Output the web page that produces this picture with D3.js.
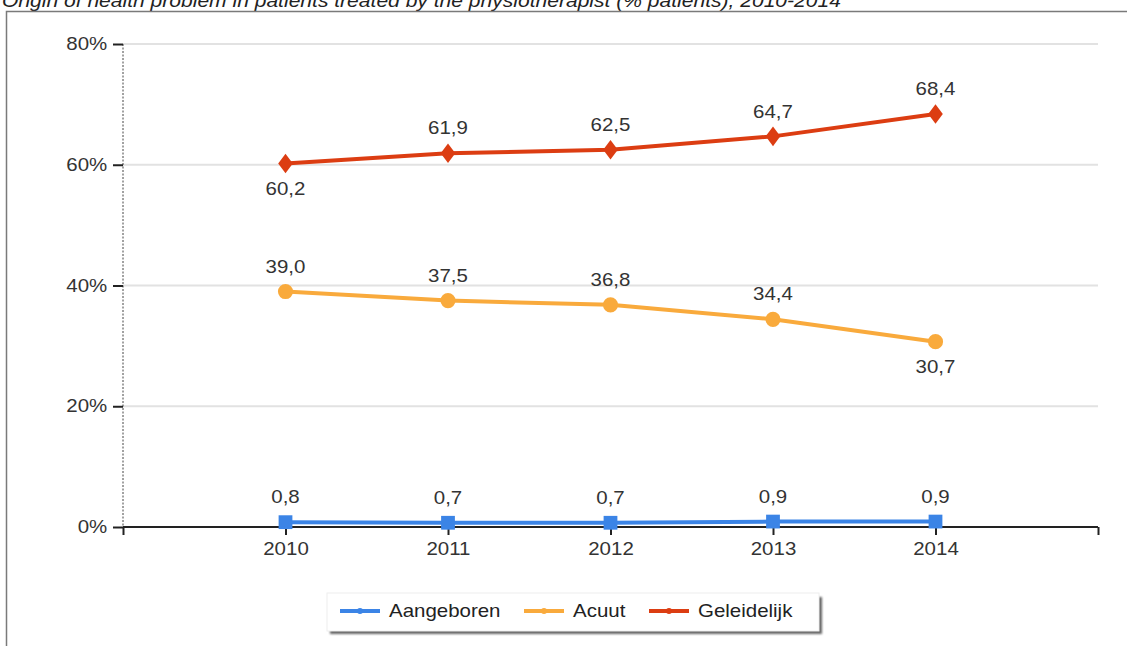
<!DOCTYPE html>
<html>
<head>
<meta charset="utf-8">
<script src="https://cdn.jsdelivr.net/npm/d3@7"></script>
<style>
  body { margin: 0; background: #fff; }
  svg { display: block; font-family: Arial, "Liberation Sans", sans-serif; }
</style>
</head>
<body>
<div id="theChart"></div>
<script>
const years = [2010, 2011, 2012, 2013, 2014]
const yTicks = [0, 20, 40, 60, 80]
const aangeboren = [0.8, 0.7, 0.7, 0.9, 0.9]
const acuut = [39.0, 37.5, 36.8, 34.4, 30.7]
const geleidelijk = [60.2, 61.9, 62.5, 64.7, 68.4]
// where the value label sits: 1 above the point, -1 below
const acuutLabelSide = [1, 1, 1, 1, -1]
const geleidelijkLabelSide = [-1, 1, 1, 1, 1]
const aangeborenLabelSide = [1, 1, 1, 1, 1]

const series = [
  { name: "Aangeboren", values: aangeboren, side: aangeborenLabelSide, color: "#3b84e6", shape: "square" },
  { name: "Acuut", values: acuut, side: acuutLabelSide, color: "#f9aa3c", shape: "circle" },
  { name: "Geleidelijk", values: geleidelijk, side: geleidelijkLabelSide, color: "#dc3d12", shape: "diamond" },
]

const w = 1127
const h = 646
// the original picture is stretched sideways, text included
const sx = 1.17
const fs = "17.5px"

const svg = d3.select("#theChart").append("svg")
  .attr("width", w)
  .attr("height", h)

// title, cut off by the top of the page
svg.append("text")
  .attr("transform", "translate(2,7) scale(" + sx + ",1)")
  .style("font-size", "18px")
  .style("font-style", "italic")
  .attr("fill", "#222")
  .text("Origin of health problem in patients treated by the physiotherapist (% patients), 2010-2014")

// outer frame
svg.append("path")
  .attr("d", "M6.5," + h + "V11.5H" + w)
  .attr("fill", "none")
  .attr("stroke", "#7a7a7a")
  .attr("stroke-width", 1.5)

const x = d3.scaleLinear().domain([2009, 2015]).range([123, 1098])
const y = d3.scaleLinear().domain([0, 80]).range([527, 44])

// gridlines
svg.append("g")
  .selectAll("line")
  .data(yTicks.filter(d => d > 0))
  .enter()
  .append("line")
  .attr("x1", x(2009))
  .attr("x2", x(2015))
  .attr("y1", d => y(d))
  .attr("y2", d => y(d))
  .attr("stroke", "#e2e2e2")
  .attr("stroke-width", 2)

// y axis
const yAxis = d3.axisLeft(y)
  .tickValues(yTicks)
  .tickSize(10)
  .tickPadding(3.5)
  .tickFormat(d => d + "%")

const gy = svg.append("g")
  .attr("transform", "translate(" + x(2009) + ",0)")
  .call(yAxis)
gy.select(".domain")
  .attr("d", "M0," + y(80) + "V" + y(0))
  .attr("stroke", "#444")
  .attr("stroke-dasharray", "2,1.5")
gy.selectAll(".tick line").attr("stroke", "#222").attr("stroke-width", 2)
gy.selectAll(".tick text")
  .style("font-size", fs)
  .attr("fill", "#333")
  .attr("transform", "scale(" + sx + ",1)")

// x axis
const xAxis = d3.axisBottom(x)
  .tickValues(d3.range(2009, 2016))
  .tickSize(8)
  .tickPadding(8)
  .tickFormat(d => (d >= 2010 && d <= 2014 ? d : ""))

const gx = svg.append("g")
  .attr("transform", "translate(0," + y(0) + ")")
  .call(xAxis)
gx.select(".domain")
  .attr("d", "M" + x(2009) + ",0H" + x(2015))
  .attr("stroke", "#222")
  .attr("stroke-width", 2)
gx.selectAll(".tick line").attr("stroke", "#222").attr("stroke-width", 2)
gx.selectAll(".tick text")
  .style("font-size", fs)
  .attr("fill", "#333")
  .attr("transform", "scale(" + sx + ",1)")

const line = d3.line()
  .x((d, i) => x(years[i]))
  .y(d => y(d))

const fmt = v => v.toFixed(1).replace(".", ",")

series.forEach(s => {
  const g = svg.append("g")
  g.append("path")
    .datum(s.values)
    .attr("d", line)
    .attr("fill", "none")
    .attr("stroke", s.color)
    .attr("stroke-width", 4)

  const sym = s.shape === "square" ? d3.symbolSquare
    : s.shape === "circle" ? d3.symbolCircle : d3.symbolDiamond
  const size = s.shape === "square" ? 190 : s.shape === "circle" ? 180 : 110

  g.selectAll(".pt")
    .data(s.values)
    .enter()
    .append("path")
    .attr("transform", (d, i) => "translate(" + x(years[i]) + "," + y(d) + ")" +
      (s.shape === "diamond" ? " scale(1.3,1)" : ""))
    .attr("d", d3.symbol().type(sym).size(size))
    .attr("fill", s.color)

  g.selectAll(".lbl")
    .data(s.values)
    .enter()
    .append("text")
    .attr("transform", (d, i) => "translate(" + x(years[i]) + "," + (y(d) - s.side[i] * 25) +
      ") scale(" + sx + ",1)")
    .attr("dy", "0.35em")
    .attr("text-anchor", "middle")
    .style("font-size", fs)
    .attr("fill", "#333")
    .text(d => fmt(d))
})

// legend
const legend = svg.append("g").attr("id", "legend")
legend.append("rect")
  .attr("x", 330).attr("y", 597)
  .attr("width", 492).attr("height", 37)
  .attr("fill", "#666")
  .style("filter", "blur(1px)")
legend.append("rect")
  .attr("x", 327).attr("y", 593)
  .attr("width", 492).attr("height", 38)
  .attr("fill", "#fff")
  .attr("stroke", "#eee")

const legendX = [340, 524, 649]
const items = legend.selectAll(".item")
  .data(series)
  .enter()
  .append("g")
  .attr("transform", (d, i) => "translate(" + legendX[i] + ",611)")
items.append("line")
  .attr("x1", 0).attr("x2", 40)
  .attr("stroke", d => d.color)
  .attr("stroke-width", 4)
items.append("circle")
  .attr("cx", 20).attr("r", 3)
  .attr("fill", d => d.color)
items.append("text")
  .attr("transform", "translate(49,0) scale(" + sx + ",1)")
  .attr("dy", "0.35em")
  .style("font-size", fs)
  .attr("fill", "#222")
  .text(d => d.name)
</script>
</body>
</html>
